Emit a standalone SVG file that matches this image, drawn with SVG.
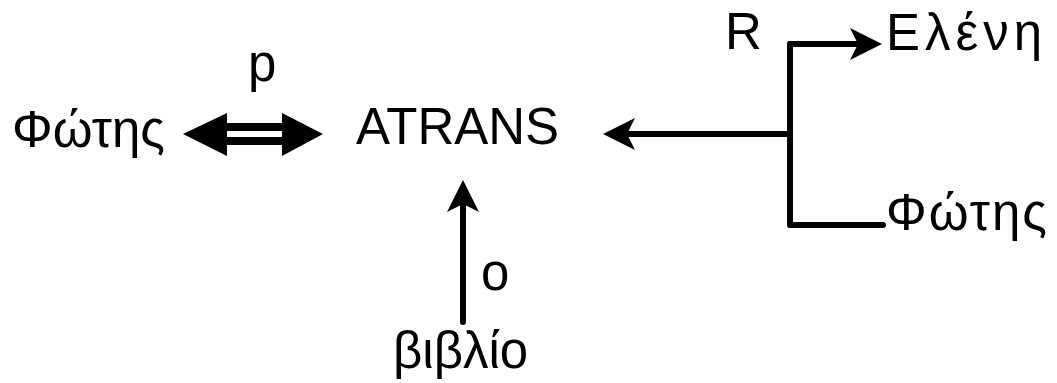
<svg xmlns="http://www.w3.org/2000/svg" width="1057" height="383" viewBox="0 0 1057 383">
  <style>
    .t { font-family: "Liberation Sans", Arial, sans-serif; font-size: 51px; fill: #000; }
    .wire { fill: none; stroke: #000; stroke-width: 6; stroke-linecap: round; stroke-linejoin: round; }
  </style>
  <defs>
    <!-- notched head; the line stops at the notch so its cap stays hidden -->
    <marker id="head" viewBox="0 0 32 32" refX="8" refY="16" markerWidth="32" markerHeight="32" markerUnits="userSpaceOnUse" orient="auto">
      <path d="M32,16 L0,0 L8,16 L0,32 Z" fill="#000"/>
    </marker>
  </defs>
  <rect width="1057" height="383" fill="#fff"/>

  <g id="node-fotis-left"><text class="t" x="12" y="147">Φώτης</text></g>
  <g id="node-atrans"><text class="t" x="356" y="144">ATRANS</text></g>
  <g id="node-eleni"><text class="t" x="886" y="50" letter-spacing="5">Ελένη</text></g>
  <g id="node-fotis-right"><text class="t" x="886" y="230" letter-spacing="2">Φώτης</text></g>
  <g id="node-vivlio"><text class="t" x="393" y="368">βιβλίο</text></g>

  <g id="labels">
    <text class="t" x="248" y="81">p</text>
    <text class="t" x="725" y="49">R</text>
    <text class="t" x="481" y="290">o</text>
  </g>

  <g id="connectors">
    <!-- double-line two-way arrow -->
    <path d="M183,134 L227,113 L227,123 L282,123 L282,113 L323,134 L282,156 L282,145 L227,145 L227,156 Z" fill="#000"/>
    <rect x="227" y="131" width="55" height="6" fill="#fff"/>
    <!-- recipient branch -->
    <path class="wire" d="M790,134 L627,134" marker-end="url(#head)"/>
    <path class="wire" d="M790,44 L790,225 L883,225"/>
    <path class="wire" d="M790,44 L858,44" marker-end="url(#head)"/>
    <!-- object arrow -->
    <path class="wire" d="M463,322 L463,204" marker-end="url(#head)"/>
  </g>
</svg>
